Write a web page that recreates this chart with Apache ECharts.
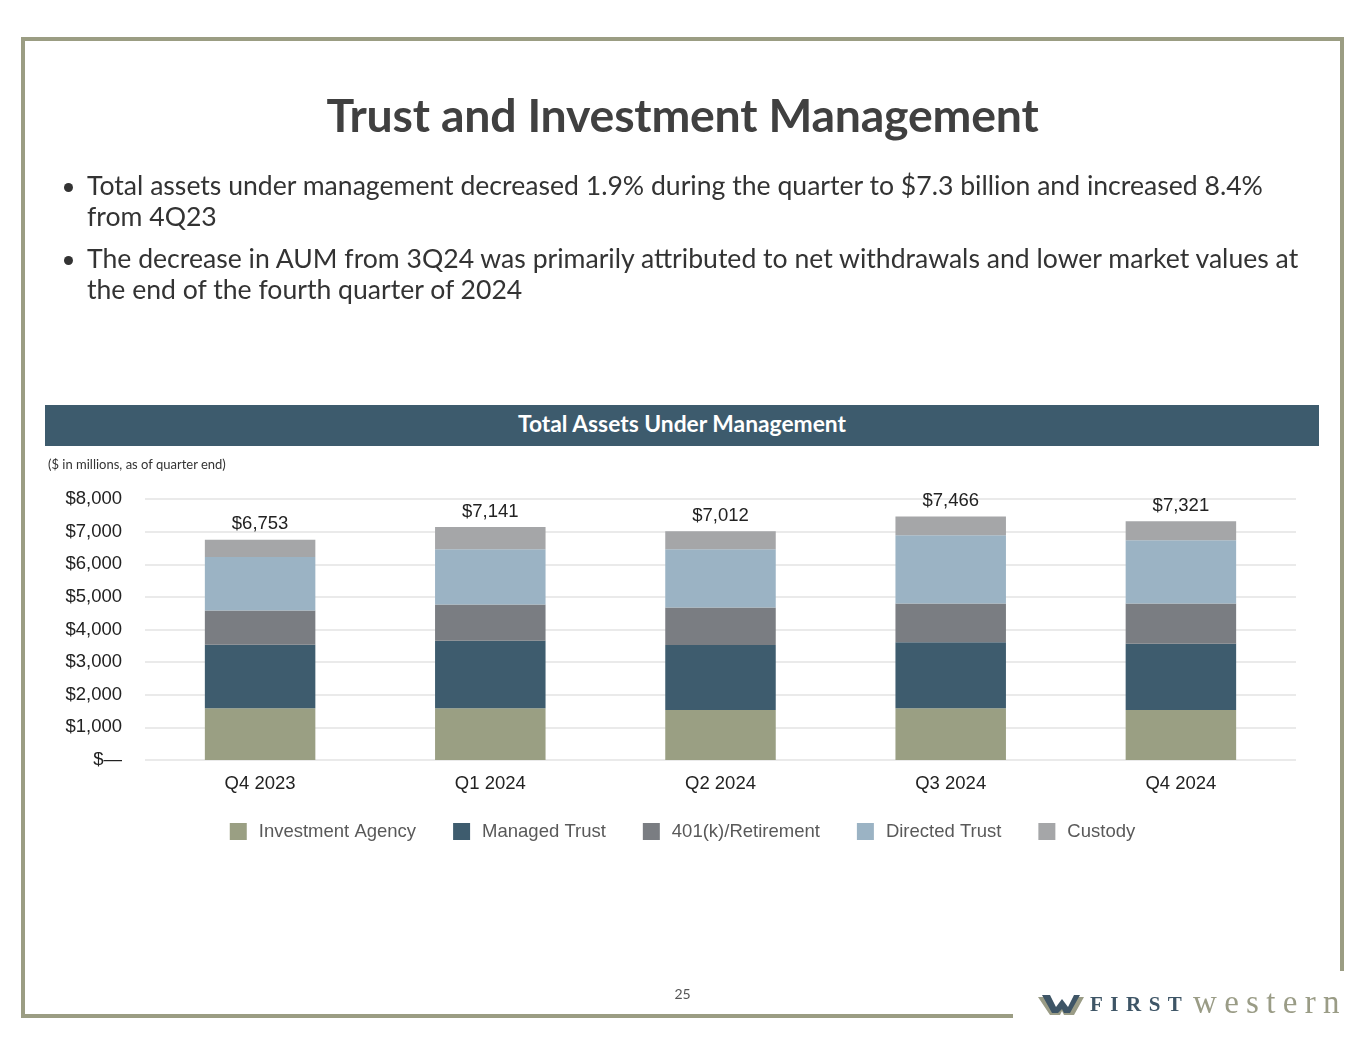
<!DOCTYPE html>
<html>
<head>
<meta charset="utf-8">
<script src="https://cdn.jsdelivr.net/npm/echarts@6/dist/echarts.min.js"></script>
<style>
  html, body { margin:0; padding:0; background:#fff; }
  #page { position:relative; width:1365px; height:1055px; overflow:hidden; font-family: Lato, "Open Sans", sans-serif; }
  .b { position:absolute; background:#9b9d83; }
  #title { position:absolute; left:0; width:1365px; top:86px; text-align:center; font-weight:bold; font-size:46.4px; color:#404040; letter-spacing:-0.2px; }
  .bul { position:absolute; left:87px; font-size:26.6px; line-height:30.5px; color:#333; white-space:nowrap; }
  .dot { position:absolute; left:64px; width:9px; height:9px; border-radius:50%; background:#333; }
  #band { position:absolute; left:45px; top:405px; width:1274px; height:41px; background:#3d5b6d; color:#fff; font-weight:bold; font-size:22.8px; line-height:36px; text-align:center; }
  #note { position:absolute; left:48px; top:456px; font-size:13px; color:#333; }
  #pnum { position:absolute; left:0; width:1365px; top:985px; text-align:center; font-size:14px; color:#555; }
  #chart { position:absolute; left:0; top:0; width:1365px; height:1055px; }
  #logo { position:absolute; left:1038px; top:990px; height:30px; white-space:nowrap; }
  #logo .first { position:absolute; left:52px; top:2px; font-family:"Liberation Serif","DejaVu Serif",serif; font-weight:bold; font-size:21px; letter-spacing:7.5px; color:#3e5566; }
  #logo .west { position:absolute; left:155px; top:-6px; font-family:"Liberation Serif","DejaVu Serif",serif; font-size:33px; letter-spacing:7.3px; color:#9a9c86; }
</style>
</head>
<body>
<div id="page">
  <div id="chart"></div>
  <div class="b" style="left:21px;top:37px;width:1323px;height:4px;"></div>
  <div class="b" style="left:21px;top:37px;width:4px;height:981px;"></div>
  <div class="b" style="left:1340px;top:37px;width:4px;height:934px;"></div>
  <div class="b" style="left:21px;top:1014px;width:992px;height:4px;"></div>
  <div id="title">Trust and Investment Management</div>
  <div class="dot" style="top:183px;"></div>
  <div class="bul" style="top:170px;">Total assets under management decreased 1.9% during the quarter to $7.3 billion and increased 8.4%<br>from 4Q23</div>
  <div class="dot" style="top:256px;"></div>
  <div class="bul" style="top:243px;">The decrease in AUM from 3Q24 was primarily attributed to net withdrawals and lower market values at<br>the end of the fourth quarter of 2024</div>
  <div id="band">Total Assets Under Management</div>
  <div id="note">($ in millions, as of quarter end)</div>
  <div id="pnum">25</div>
  <div id="logo">
    <svg width="48" height="22" style="position:absolute;left:0;top:5px;" viewBox="0 0 48 22">
      <polygon points="0,2 12,2 18,14 24,6 30,14 36,2 46,2 36,20 26,20 24,16 22,20 12,20" fill="#9a9c86"/>
      <polygon points="4,0 12,0 18,12 24,4 30,12 36,0 42,0 32,18 26,18 24,14 20,18 14,18" fill="#3e5566"/>
    </svg>
    <span class="first">FIRST</span><span class="west">western</span>
  </div>
</div>
<script>
const categories = ['Q4 2023', 'Q1 2024', 'Q2 2024', 'Q3 2024', 'Q4 2024'];
const investmentAgency = [1586, 1586, 1533, 1586, 1533];
const managedTrust = [1946, 2071, 1991, 2022, 2031];
const retirement401k = [1049, 1111, 1150, 1191, 1235];
const directedTrust = [1639, 1689, 1783, 2093, 1938];
const custody = [533, 684, 555, 574, 584];
const totals = [6753, 7141, 7012, 7466, 7321];
const yTicks = [0, 1000, 2000, 3000, 4000, 5000, 6000, 7000, 8000];

const chart = echarts.init(document.getElementById('chart'), null, {renderer:'canvas'});
const fmt = v => '$' + v.toLocaleString('en-US');
const font = 'Liberation Sans, Arial, sans-serif';
const names = ['Investment Agency', 'Managed Trust', '401(k)/Retirement', 'Directed Trust', 'Custody'];
const colors = ['#9a9f83', '#3e5c6e', '#7a7d82', '#9bb3c4', '#a5a6a8'];
const datas = [investmentAgency, managedTrust, retirement401k, directedTrust, custody];

const series = datas.map((d, i) => ({
  name: names[i],
  type: 'bar',
  stack: 'aum',
  barWidth: '48%',
  data: d,
  itemStyle: { color: colors[i] },
  label: i === 4 ? {
    show: true, position: 'top', distance: 6,
    formatter: p => fmt(totals[p.dataIndex]),
    fontFamily: font, fontSize: 18.5, color: '#222'
  } : { show: false },
  emphasis: { disabled: true }
}));

chart.setOption({
  animation: false,
  color: colors,
  grid: { left: 145, right: 69, top: 499, bottom: 295, containLabel: false },
  xAxis: {
    type: 'category', data: categories,
    axisLine: { show: false }, axisTick: { show: false },
    axisLabel: { fontFamily: font, fontSize: 18.5, color: '#222', margin: 14 }
  },
  yAxis: {
    type: 'value', min: yTicks[0], max: yTicks[yTicks.length - 1], interval: 1000,
    axisLine: { show: false }, axisTick: { show: false },
    splitLine: { lineStyle: { color: '#e3e3e3', width: 1.5 } },
    axisLabel: {
      fontFamily: font, fontSize: 18.5, color: '#222', margin: 23,
      formatter: v => v === 0 ? '$\u2014' : fmt(v)
    }
  },
  legend: {
    data: names, left: 'center', top: 817,
    itemWidth: 17, itemHeight: 17, itemGap: 37, icon: 'rect',
    textStyle: { fontFamily: font, fontSize: 18.5, color: '#595959', padding: [0, 0, 0, 7] }
  },
  series: series
});
</script>
</body>
</html>
